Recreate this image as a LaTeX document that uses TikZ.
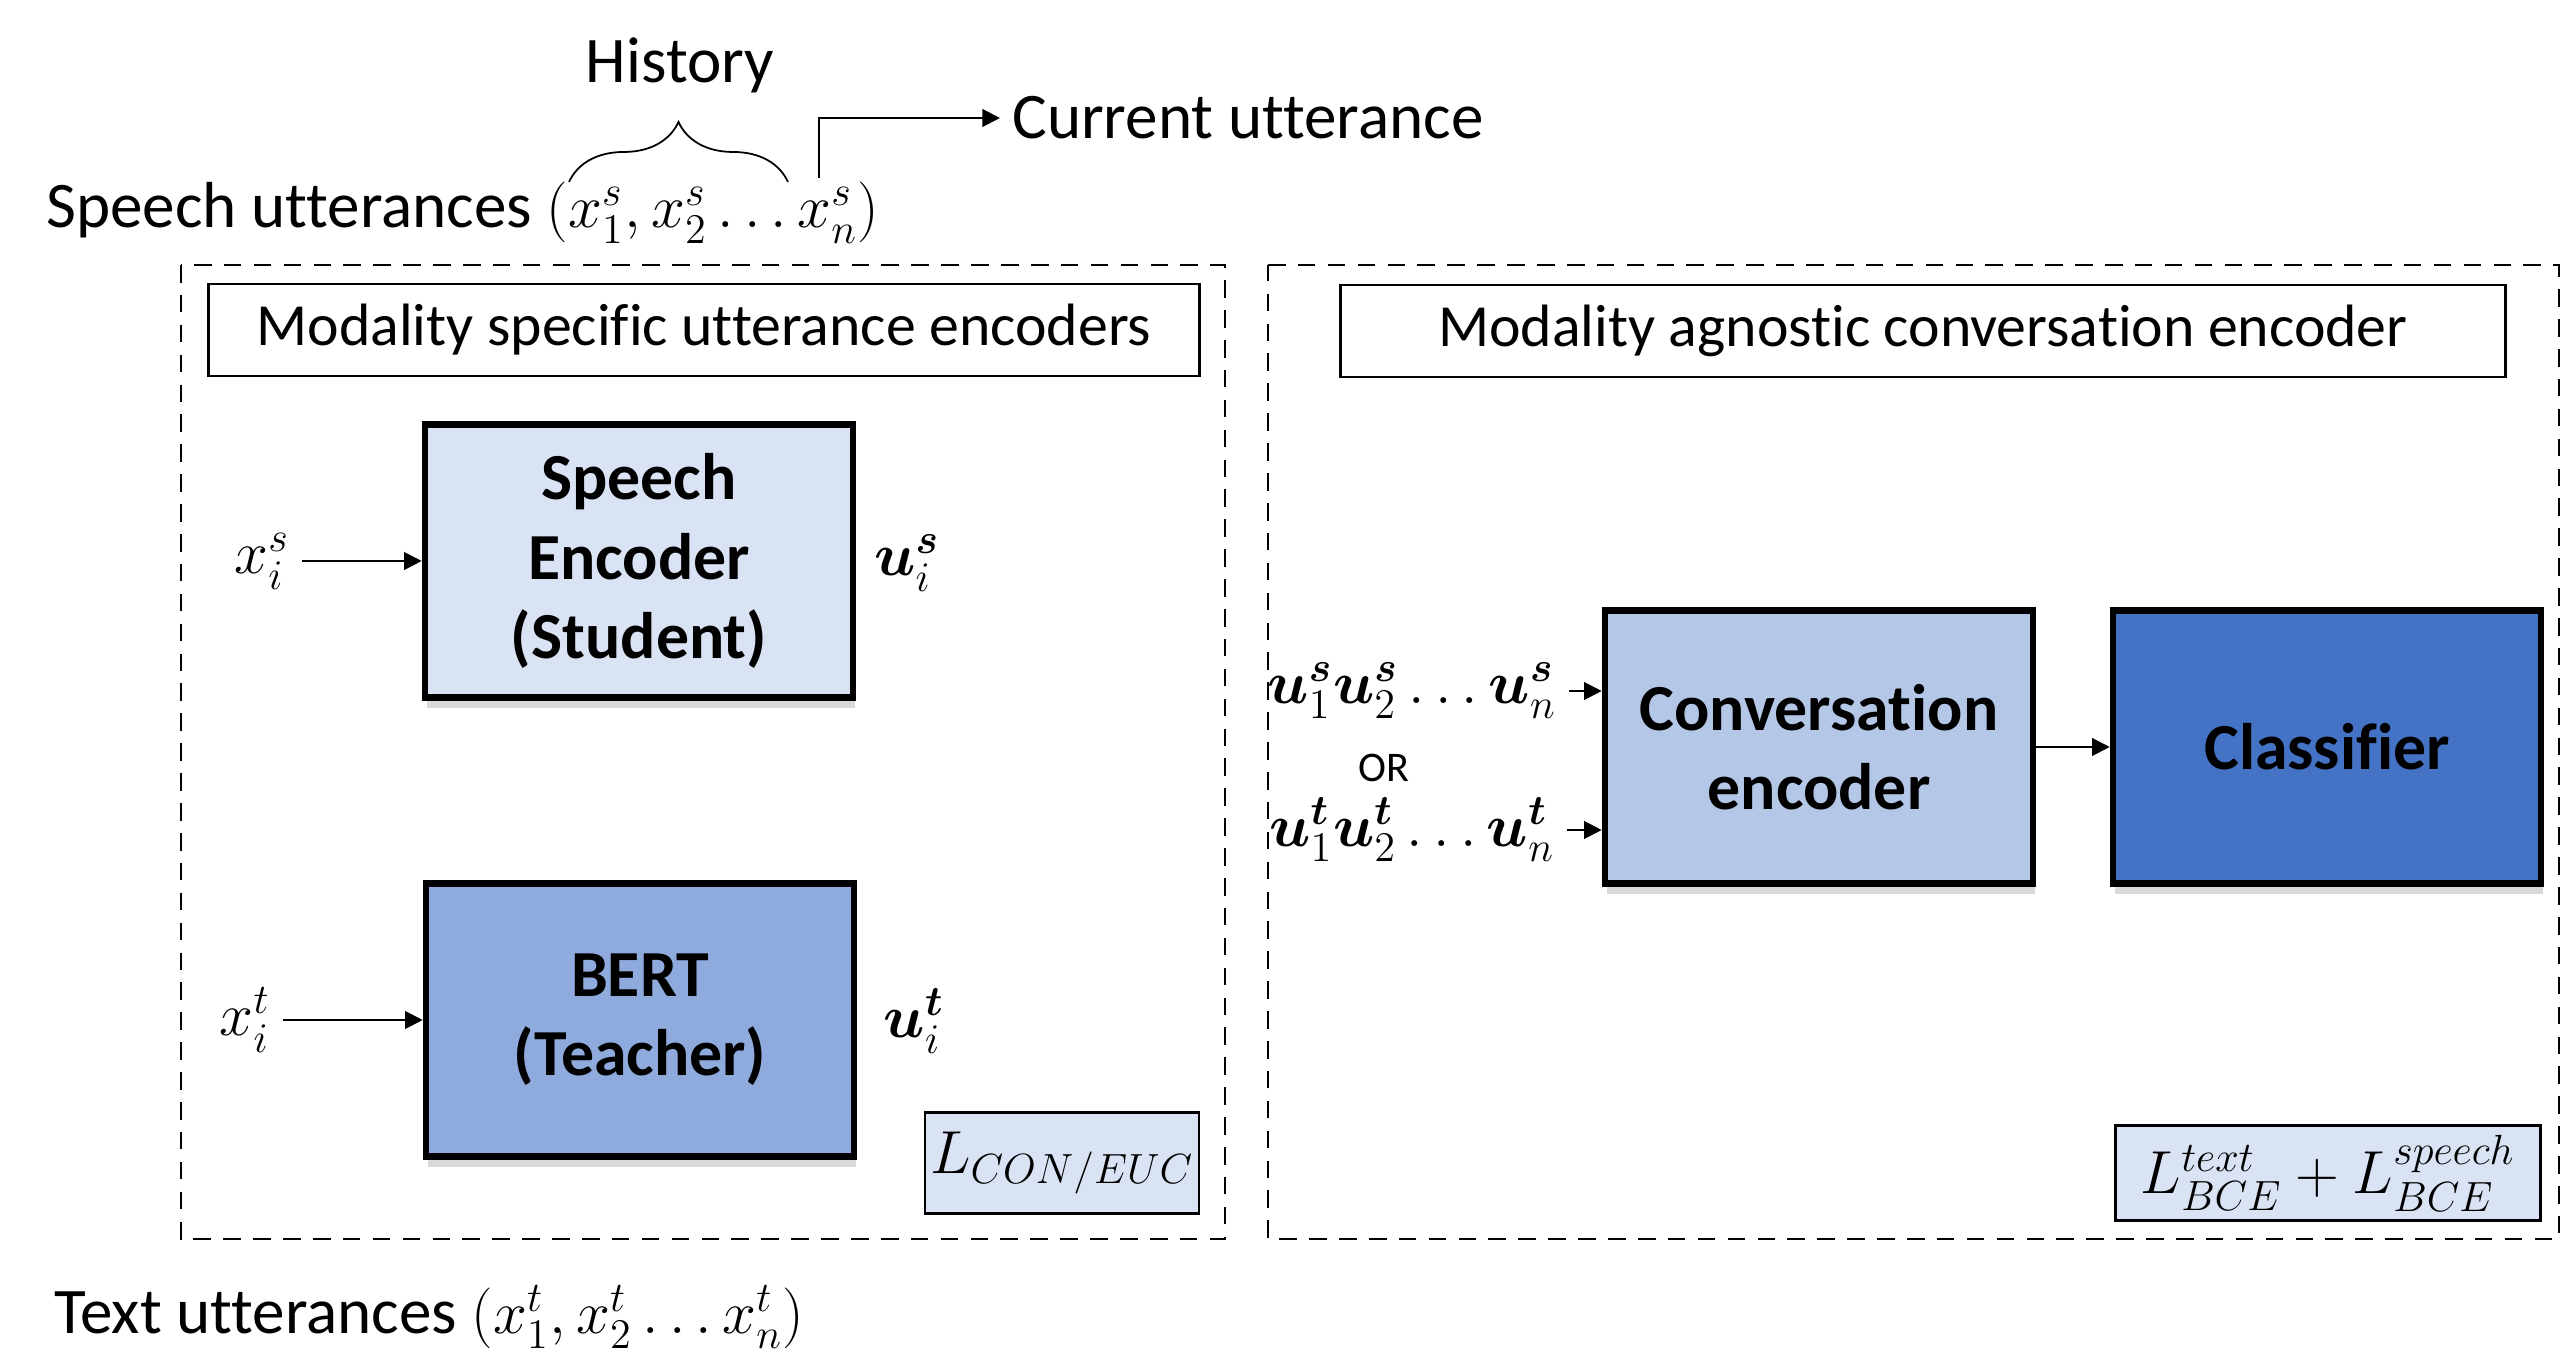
\documentclass[tikz,border=0pt]{standalone}
\usepackage{amsmath, amssymb}
\usepackage{fontspec}
\setmainfont{Carlito}[Ligatures=NoCommon]
\usetikzlibrary{arrows.meta, decorations.pathreplacing, shadows}

\definecolor{paleblue}{HTML}{DAE3F3}
\definecolor{midblue}{HTML}{B4C7E7}
\definecolor{bertblue}{HTML}{8FAADC}
\definecolor{darkblue}{HTML}{4472C4}

\newcommand{\bu}[1]{\boldsymbol{u}^{\boldsymbol{#1}}}

\begin{document}
\begin{tikzpicture}[x=0.01cm, y=-0.01cm,
    arr/.style={-{Triangle[length=5pt,width=5pt]}, line width=0.6pt},
    region/.style={dashed, dash pattern=on 5pt off 3.5pt, line width=0.8pt},
    titlebox/.style={draw, line width=0.7pt, inner sep=0pt, minimum height=0.92cm, font=\fontsize{17}{20}\selectfont},
    encbox/.style={draw, line width=1.8pt, align=center, minimum width=4.28cm, minimum height=2.73cm,
      font=\fontsize{18.7}{22.5}\selectfont\bfseries,
      drop shadow={shadow xshift=0.5pt, shadow yshift=-3pt, opacity=0.3}},
    lossbox/.style={draw, line width=0.7pt, fill=paleblue, inner sep=0pt},
    lbl/.style={font=\fontsize{18.5}{21}\selectfont}
  ]
  \useasboundingbox (0,0) rectangle (2562,1352);

  % inputs at the top
  \node[lbl, anchor=west]  (speechseq) at (34,213) {Speech utterances $(x_1^s, x_2^s \dots x_n^s)$};
  \coordinate              (histl) at (569,182);
  \coordinate              (histr) at (788,182);
  \draw[decorate, decoration={brace, amplitude=0.6cm}, line width=0.5pt] (histl) -- (histr);
  \node[lbl]               (history) at (680,65) {History};
  \coordinate              (cur) at (819,178);
  \node[lbl, anchor=west]  (curtext) at (1000,118) {Current utterance};
  \draw[arr]               (cur) |- (curtext.west);

  % modality specific encoders
  \draw[region]            (181,265) rectangle (1225,1239);
  \node[titlebox, minimum width=9.90cm] (spectitle) at (704,330) {Modality specific utterance encoders};

  \node[encbox, fill=paleblue] (speechenc) at (639,561) {Speech\\Encoder\\(Student)};
  \node[lbl]               (xs) at (262,561) {$x_i^s$};
  \node[lbl]               (us) at (907,563) {$\bu{s}_i$};
  \draw[arr]               (xs) -- (speechenc);

  \node[encbox, fill=bertblue] (bert) at (640,1020) {BERT\\(Teacher)};
  \node[lbl]               (xt) at (245,1020) {$x_i^t$};
  \node[lbl]               (ut) at (914,1021) {$\bu{t}_i$};
  \draw[arr]               (xt) -- (bert);

  \node[lossbox, minimum width=2.74cm, minimum height=1.01cm, font=\fontsize{17.5}{20}\selectfont] (lcon) at (1062,1163) {$L_{CON/EUC}$};

  % modality agnostic conversation encoder
  \draw[region]            (1268,265) -- (2559,265) -- (2559,1239) -- (1268,1239) -- cycle;
  \node[titlebox, minimum width=11.64cm] (agntitle) at (1923,331) {Modality agnostic conversation encoder};

  \node[encbox, fill=midblue] (convenc) at (1819,747) {Conversation\\encoder};
  \node[encbox, fill=darkblue] (classifier) at (2327,747) {Classifier};
  \draw[arr]               (convenc) -- (classifier);

  \node[font=\fontsize{17}{20}\selectfont] (useqs) at (1412,691) {$\bu{s}_1\bu{s}_2\,{\ldotp\ldotp\ldotp}\,\bu{s}_n$};
  \node[font=\fontsize{12}{14}\selectfont] (orlbl) at (1384,768) {OR};
  \node[font=\fontsize{17}{20}\selectfont] (useqt) at (1412,830) {$\bu{t}_1\bu{t}_2\,{\ldotp\ldotp\ldotp}\,\bu{t}_n$};
  \draw[arr]               (useqs) -- (convenc.west |- useqs);
  \draw[arr]               (useqt) -- (convenc.west |- useqt);

  \node[lossbox, minimum width=4.25cm, minimum height=0.95cm, font=\fontsize{17.8}{20}\selectfont] (lbce) at (2328,1173) {$L_{BCE}^{text} + L_{BCE}^{speech}$};

  % text input at the bottom
  \node[lbl, anchor=west]  (textseq) at (42,1317) {Text utterances $(x_1^t, x_2^t \dots x_n^t)$};
\end{tikzpicture}
\end{document}
